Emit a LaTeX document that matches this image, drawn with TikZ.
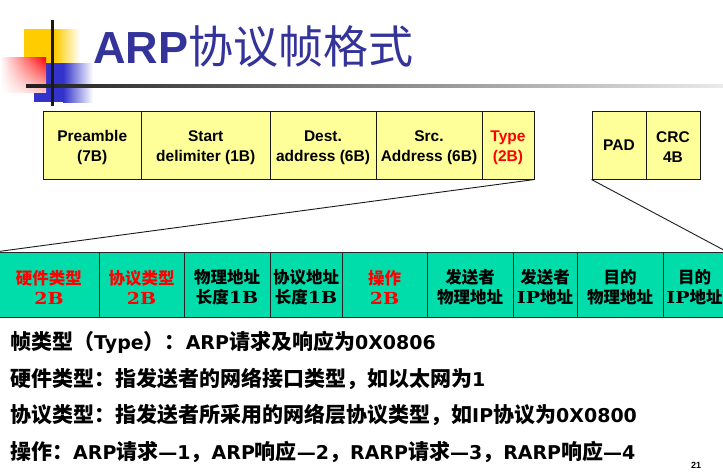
\documentclass[tikz,border=0pt]{standalone}
\usepackage{fontspec}
\usetikzlibrary{shadings}
\setmainfont{Liberation Sans}
\newfontfamily\cjk{Noto Sans CJK SC}
\newfontfamily\dejavu{DejaVu Sans}
\newfontfamily\serwide{DejaVu Serif}[FakeStretch=1.15]
% Latin runs inside Chinese text
\newcommand\latB[1]{{\fontsize{19}{25}\selectfont\dejavu\bfseries #1}}
\newcommand\serB[1]{{\serwide\bfseries #1}}
\definecolor{framey}{HTML}{FFFF99}
\definecolor{arpgreen}{HTML}{00DDAA}
\definecolor{titleblue}{HTML}{333399}
\definecolor{logoyellow}{HTML}{FFCC00}
\definecolor{logoblue}{HTML}{3333CC}
\definecolor{hot}{HTML}{FF0000}
\tikzset{
  hdr/.style={draw=black!90, line width=1pt, fill=framey, minimum height=68, inner sep=0pt},
  hdrtxt/.style={inner sep=0pt, align=center, font=\fontsize{15.5}{20}\selectfont\bfseries},
  fld/.style={draw=black!85, line width=1pt, fill=arpgreen, minimum height=65, inner sep=0pt},
  fldtxt/.style={inner sep=0pt, align=center, font=\fontsize{16.5}{20}\selectfont\cjk\bfseries},
  note/.style={anchor=base west, inner sep=0pt, font=\fontsize{21}{25}\selectfont\cjk\bfseries},
  conn/.style={draw=black!90, line width=0.9pt},
}
% cell: name, centre x, centre y, width, box style, text style, text
\newcommand\cell[7]{%
  \node[#5, minimum width=#4] (#1) at (#2,#3) {};
  \node[#6] (#1-t) at ([yshift=-2.5pt]#1.center) {#7};}
\begin{document}
\begin{tikzpicture}[x=1pt, y=-1pt]
\useasboundingbox (0,0) rectangle (723,472);

% corner logo
\fill[logoyellow] (24,29) rectangle (55,63);
\shade[left color=logoyellow, right color=white] (55,29) rectangle (80,63);
\fill[logoblue] (34,63) rectangle (63,102);
\shade[left color=logoblue, right color=white] (63,63) rectangle (93,102);
\shade[upper left=white, upper right=hot, lower left=white, lower right=hot!20] (0,57) rectangle (46,92);
\shade[left color=black!88, right color=black!8] (26,84.5) rectangle (723,87.5);
\fill[black!90] (51,20) rectangle (54,106);

% title
\node[anchor=base west, inner sep=0pt, text=titleblue] (title) at (93,63)
  {\fontsize{45}{50}\selectfont\bfseries ARP{\cjk\mdseries 协议帧格式}};

% Ethernet frame
\cell{pre}{92.25}{145}{98.5}{hdr}{hdrtxt}{Preamble\\(7B)}
\cell{start}{205.75}{145}{128.5}{hdr}{hdrtxt}{Start\\delimiter (1B)}
\cell{dest}{323}{145}{106}{hdr}{hdrtxt}{Dest.\\address (6B)}
\cell{src}{429}{145}{106}{hdr}{hdrtxt}{Src.\\Address (6B)}
\cell{type}{508}{145}{52}{hdr}{hdrtxt, text=hot}{Type\\(2B)}
\cell{pad}{619}{145}{54}{hdr}{hdrtxt, yshift=2pt}{PAD}
\cell{crc}{673}{145}{54}{hdr}{hdrtxt}{CRC\\4B}

% ARP packet fields
\cell{hw}{49}{284.5}{100}{fld}{fldtxt, text=hot}{硬件类型\\\serB{2B}}
\cell{pt}{141.5}{284.5}{85}{fld}{fldtxt, text=hot}{协议类型\\\serB{2B}}
\cell{hal}{227}{284.5}{86}{fld}{fldtxt}{物理地址\\长度\serB{1B}}
\cell{pal}{306}{284.5}{72}{fld}{fldtxt}{协议地址\\长度\serB{1B}}
\cell{op}{384.5}{284.5}{85}{fld}{fldtxt, text=hot}{操作\\\serB{2B}}
\cell{sha}{470}{284.5}{86}{fld}{fldtxt}{发送者\\物理地址}
\cell{spa}{545}{284.5}{64}{fld}{fldtxt}{发送者\\\serB{IP}地址}
\cell{tha}{620}{284.5}{86}{fld}{fldtxt}{目的\\物理地址}
\cell{tpa}{694.5}{284.5}{63}{fld}{fldtxt}{目的\\\serB{IP}地址}

% expansion lines
\draw[conn] (type.south east) -- (hw.north west);
\draw[conn] (pad.south west) -- (tpa.north east);

% notes
\node[note] (n1) at (10,349) {帧类型（\latB{Type}）：\latB{ARP}请求及响应为\latB{0X0806}};
\node[note] (n2) at (10,386) {硬件类型：指发送者的网络接口类型，如以太网为\latB{1}};
\node[note] (n3) at (10,422) {协议类型：指发送者所采用的网络层协议类型，如\latB{IP}协议为\latB{0X0800}};
\node[note] (n4) at (10,459) {操作：\latB{ARP}请求\latB{—1}，\latB{ARP}响应\latB{—2}，\latB{RARP}请求\latB{—3}，\latB{RARP}响应\latB{—4}};

\node[anchor=north west, inner sep=0pt, font=\fontsize{9}{11}\selectfont\bfseries] (pg) at (691,462) {21};
\end{tikzpicture}
\end{document}
